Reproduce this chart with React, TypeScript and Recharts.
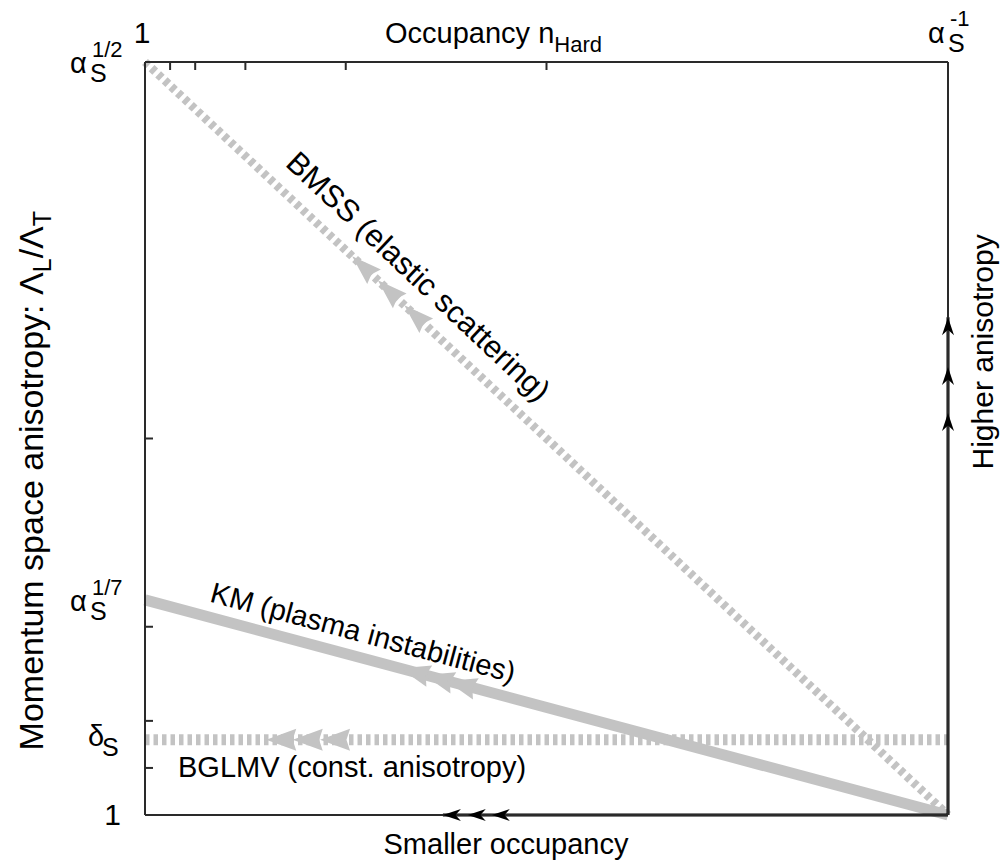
import React from 'react';
import { LineChart, Line, XAxis, YAxis } from 'recharts';

const FONT = '"Liberation Sans", Arial, Helvetica, sans-serif';
const GRAY = '#c3c3c3';
const FRAME = '#2a2a2a';

// x: occupancy, 0 -> 1, 1 -> alpha_s^-1 ; y: anisotropy, 0 -> 1, 1 -> alpha_s^1/2
const xTickMarks = [1 / 32, 1 / 16, 1 / 8, 1 / 4, 1 / 2];
const yTickMarks = [1 / 16, 1 / 8, 1 / 4, 1 / 2];
const xLabelTicks = [0, 1];
const yLabelTicks = [0, 0.1, 0.2857, 1];

const bmss = [{ x: 0, y: 1 }, { x: 1, y: 0 }];
const km = [{ x: 0, y: 0.2857 }, { x: 1, y: 0 }];
const bglmv = [{ x: 0, y: 0.1 }, { x: 1, y: 0.1 }];
const smaller = [{ x: 0.371, y: 0 }, { x: 1, y: 0 }];
const higher = [{ x: 1, y: 0 }, { x: 1, y: 0.661 }];

const bmssArrows = [{ x: 0.258, y: 0.742 }, { x: 0.29, y: 0.71 }, { x: 0.323, y: 0.677 }];
const kmArrows = [{ x: 0.318, y: 0.195 }, { x: 0.348, y: 0.186 }, { x: 0.376, y: 0.178 }];
const bglmvArrows = [{ x: 0.151, y: 0.1 }, { x: 0.184, y: 0.1 }, { x: 0.218, y: 0.1 }];
const smallerArrows = [{ x: 0.371, y: 0 }, { x: 0.402, y: 0 }, { x: 0.432, y: 0 }];
const higherArrows = [{ x: 1, y: 0.661 }, { x: 1, y: 0.595 }, { x: 1, y: 0.534 }];

const near = (a: number, b: number) => Math.abs(a - b) < 1e-4;

const txt = { fontFamily: FONT, fill: '#000' };

const TopTick = (props: any) => {
  const { x, y, payload } = props;
  const v = payload.value;
  const mark = xTickMarks.some((t) => near(t, v));
  return (
    <g>
      {mark && <line x1={x} y1={y} x2={x} y2={y + 8} stroke={FRAME} strokeWidth={2} />}
      {near(v, 0) && (
        <text {...txt} x={x - 3} y={y - 19} fontSize={30} textAnchor="middle">1</text>
      )}
      {near(v, 1) && (
        <g>
          <text {...txt} x={x - 20} y={y - 19} fontSize={29}>α</text>
          <text {...txt} x={x} y={y - 10} fontSize={25}>S</text>
          <text {...txt} x={x + 2} y={y - 36} fontSize={22}>-1</text>
        </g>
      )}
    </g>
  );
};

const Alpha = ({ x, y, sup }: { x: number; y: number; sup: string }) => (
  <g>
    <text {...txt} x={x - 75} y={y + 11} fontSize={29}>α</text>
    <text {...txt} x={x - 55} y={y + 20} fontSize={25}>S</text>
    <text {...txt} x={x - 53} y={y - 5} fontSize={22}>{sup}</text>
  </g>
);

const LeftTick = (props: any) => {
  const { x, y, payload } = props;
  const v = payload.value;
  const mark = yTickMarks.some((t) => near(t, v));
  return (
    <g>
      {mark && <line x1={x} y1={y} x2={x + 8} y2={y} stroke={FRAME} strokeWidth={2} />}
      {near(v, 0) && (
        <text {...txt} x={x - 24} y={y + 10} fontSize={30} textAnchor="end">1</text>
      )}
      {near(v, 0.1) && (
        <g>
          <text {...txt} x={x - 57} y={y + 6} fontSize={29}>δ</text>
          <text {...txt} x={x - 43} y={y + 16} fontSize={25}>S</text>
        </g>
      )}
      {near(v, 0.2857) && <Alpha x={x} y={y} sup="1/7" />}
      {near(v, 1) && <Alpha x={x} y={y} sup="1/2" />}
    </g>
  );
};

const TopTitle = (props: any) => {
  const { x, y, height } = props.viewBox;
  return (
    <text {...txt} x={x + 240} y={y + height - 19} fontSize={29}>
      Occupancy n<tspan fontSize={22} dy={9}>Hard</tspan>
    </text>
  );
};

const BottomTitle = (props: any) => {
  const { x, y } = props.viewBox;
  return (
    <text {...txt} x={x + 361} y={y + 39} fontSize={29} textAnchor="middle">
      Smaller occupancy
    </text>
  );
};

const LeftTitle = (props: any) => {
  const { y, height } = props.viewBox;
  const cx = 43;
  const cy = y + height * 0.556;
  return (
    <text {...txt} x={cx} y={cy} fontSize={34} textAnchor="middle" transform={`rotate(-90, ${cx}, ${cy})`}>
      Momentum space anisotropy: Λ<tspan fontSize={25} dy={8}>L</tspan>
      <tspan dy={-8}>/Λ</tspan>
      <tspan fontSize={25} dy={8}>T</tspan>
    </text>
  );
};

const RightTitle = (props: any) => {
  const { x, y, height } = props.viewBox;
  const cx = x + 45;
  const cy = y + height * 0.385;
  return (
    <text {...txt} x={cx} y={cy} fontSize={30} textAnchor="middle" transform={`rotate(-90, ${cx}, ${cy})`}>
      Higher anisotropy
    </text>
  );
};

// text placed along a series, using its first and last point for the direction
const lineLabel = (text: string, along: number, offset: number, fontSize: number) => (props: any) => {
  const { index, points } = props;
  if (index !== 0 || !points || points.length < 2) return <g key={`l-${index}`} />;
  const p0 = points[0];
  const p1 = points[points.length - 1];
  const dx = p1.x - p0.x;
  const dy = p1.y - p0.y;
  const len = Math.hypot(dx, dy) || 1;
  const ux = dx / len;
  const uy = dy / len;
  const ang = (Math.atan2(dy, dx) * 180) / Math.PI;
  const sx = p0.x + ux * along + uy * offset;
  const sy = p0.y + uy * along - ux * offset;
  return (
    <text key={`l-${index}`} {...txt} x={sx} y={sy} fontSize={fontSize} transform={`rotate(${ang}, ${sx}, ${sy})`}>
      {text}
    </text>
  );
};

// arrow head pointing from the last point of the series towards the first one
const arrowDot = (len: number, hw: number, notch: number, fill: string) => (props: any) => {
  const { cx, cy, index, points } = props;
  if (cx == null || !points || points.length < 2) return <g key={`a-${index}`} />;
  const a = points[0];
  const b = points[points.length - 1];
  let dx = a.x - b.x;
  let dy = a.y - b.y;
  const l = Math.hypot(dx, dy) || 1;
  dx /= l;
  dy /= l;
  const nx = -dy;
  const ny = dx;
  const bx = cx - dx * len;
  const by = cy - dy * len;
  const mx = cx - dx * len * (1 - notch);
  const my = cy - dy * len * (1 - notch);
  const pts = [
    [cx, cy],
    [bx + nx * hw, by + ny * hw],
    [mx, my],
    [bx - nx * hw, by - ny * hw],
  ]
    .map((p) => p.join(','))
    .join(' ');
  return <polygon key={`a-${index}`} points={pts} fill={fill} />;
};

const common = { xAxisId: 'top', yAxisId: 'left', dataKey: 'y', isAnimationActive: false, activeDot: false as const, legendType: 'none' as const };

export default function App() {
  return (
    <div style={{ position: 'absolute', left: 0, top: 0 }}>
      <LineChart width={1008} height={861} margin={{ top: 0, right: 0, bottom: 0, left: 0 }}>
        <XAxis
          xAxisId="top"
          orientation="top"
          type="number"
          dataKey="x"
          domain={[0, 1]}
          ticks={[...xLabelTicks, ...xTickMarks].sort((a, b) => a - b)}
          interval={0}
          height={62}
          tickSize={0}
          tickMargin={0}
          tickLine={false}
          tick={<TopTick />}
          axisLine={{ stroke: FRAME, strokeWidth: 2 }}
          label={TopTitle}
        />
        <XAxis
          xAxisId="bottom"
          orientation="bottom"
          type="number"
          dataKey="x"
          domain={[0, 1]}
          height={46}
          tick={false}
          tickLine={false}
          axisLine={{ stroke: FRAME, strokeWidth: 2 }}
          label={BottomTitle}
        />
        <YAxis
          yAxisId="left"
          orientation="left"
          type="number"
          domain={[0, 1]}
          ticks={[...yLabelTicks, ...yTickMarks].sort((a, b) => a - b)}
          interval={0}
          width={145}
          tickSize={0}
          tickMargin={0}
          tickLine={false}
          tick={<LeftTick />}
          axisLine={{ stroke: FRAME, strokeWidth: 2 }}
          label={LeftTitle}
        />
        <YAxis
          yAxisId="right"
          orientation="right"
          type="number"
          domain={[0, 1]}
          width={60}
          tick={false}
          tickLine={false}
          axisLine={{ stroke: FRAME, strokeWidth: 2 }}
          label={RightTitle}
        />

        <Line {...common} data={bglmv} stroke={GRAY} strokeWidth={11} strokeDasharray="4.5 4" dot={lineLabel('BGLMV (const. anisotropy)', 33, -37, 29)} />
        <Line {...common} data={km} stroke={GRAY} strokeWidth={11} dot={lineLabel('KM (plasma instabilities)', 62, 15, 29)} />
        <Line {...common} data={bmss} stroke={GRAY} strokeWidth={8.5} strokeDasharray="5 4" dot={lineLabel('BMSS (elastic scattering)', 172, 20, 31)} />

        <Line {...common} data={bglmvArrows} stroke="none" dot={arrowDot(30, 11, 0.12, GRAY)} />
        <Line {...common} data={kmArrows} stroke="none" dot={arrowDot(30, 11, 0.12, GRAY)} />
        <Line {...common} data={bmssArrows} stroke="none" dot={arrowDot(30, 10, 0.12, GRAY)} />

        <Line {...common} data={smaller} stroke="#000" strokeWidth={3} dot={false} />
        <Line {...common} data={higher} stroke="#000" strokeWidth={3} dot={false} />
        <Line {...common} data={smallerArrows} stroke="none" dot={arrowDot(18, 6, 0.3, '#000')} />
        <Line {...common} data={higherArrows} stroke="none" dot={arrowDot(18, 6, 0.3, '#000')} />
      </LineChart>
    </div>
  );
}
